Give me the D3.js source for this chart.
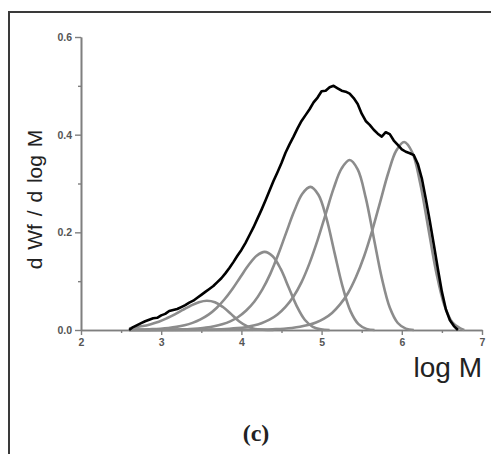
<!DOCTYPE html>
<html>
<head>
<meta charset="utf-8">
<script src="https://cdn.jsdelivr.net/npm/d3@7"></script>
<style>
  html, body { margin: 0; padding: 0; background: #fff; }
  svg { display: block; }
</style>
</head>
<body>
<svg id="chart" width="491" height="454"></svg>
<script>
// ---- Data ----
const xTicks = [2, 3, 4, 5, 6, 7];
const xMinorTicks = [2.5, 3.5, 4.5, 5.5, 6.5];
const yTicks = [0.0, 0.2, 0.4, 0.6];
const yMinorTicks = [0.1, 0.3, 0.5];

// Measured (total) distribution, black curve
const totalLogM = [2.60,2.65,2.70,2.75,2.80,2.85,2.90,2.95,3.00,3.05,3.10,3.15,3.20,3.25,3.30,3.35,3.40,3.45,3.50,3.55,3.60,3.65,3.70,3.75,3.80,3.85,3.90,3.95,4.00,4.05,4.10,4.15,4.20,4.25,4.30,4.35,4.40,4.45,4.50,4.55,4.60,4.65,4.70,4.75,4.80,4.85,4.90,4.95,5.00,5.05,5.10,5.15,5.20,5.25,5.30,5.35,5.40,5.45,5.50,5.55,5.60,5.65,5.70,5.75,5.80,5.85,5.90,5.95,6.00,6.05,6.10,6.15,6.20,6.25,6.30,6.35,6.40,6.45,6.50,6.55,6.60,6.65,6.70];
const totalW    = [0.000,0.006,0.010,0.014,0.018,0.021,0.024,0.025,0.030,0.033,0.039,0.041,0.043,0.047,0.051,0.056,0.060,0.066,0.072,0.078,0.084,0.090,0.098,0.106,0.116,0.127,0.139,0.152,0.164,0.178,0.194,0.210,0.228,0.246,0.265,0.285,0.305,0.323,0.342,0.363,0.380,0.396,0.413,0.428,0.440,0.452,0.466,0.476,0.489,0.490,0.497,0.500,0.495,0.490,0.488,0.484,0.475,0.463,0.443,0.428,0.420,0.410,0.402,0.396,0.405,0.401,0.388,0.379,0.370,0.365,0.362,0.358,0.340,0.310,0.268,0.222,0.174,0.125,0.078,0.042,0.020,0.008,0.000];

// Deconvoluted components, grey curves
const comp1LogM = [2.60,2.67,2.77,2.87,2.97,3.07,3.17,3.27,3.37,3.47,3.57,3.67,3.77,3.87,3.97,4.07,4.17,4.27,4.40];
const comp1W    = [0.003,0.0055,0.008,0.012,0.017,0.024,0.032,0.041,0.050,0.057,0.060,0.057,0.047,0.033,0.018,0.008,0.002,0.0005,0];

const comp2LogM = [2.60,2.69,2.79,2.89,2.99,3.09,3.19,3.29,3.39,3.49,3.59,3.69,3.79,3.89,3.99,4.09,4.19,4.29,4.39,4.49,4.59,4.69,4.79,4.89,4.99,5.10];
const comp2W    = [0.0005,0.0007,0.0011,0.0017,0.0027,0.0042,0.0064,0.0097,0.0146,0.0218,0.0315,0.0451,0.0629,0.0845,0.109,0.133,0.152,0.160,0.151,0.125,0.087,0.049,0.021,0.0066,0.0013,0];

const comp3LogM = [2.60,3.06,3.16,3.26,3.36,3.46,3.56,3.66,3.76,3.86,3.96,4.06,4.16,4.26,4.36,4.46,4.56,4.66,4.76,4.86,4.96,5.06,5.16,5.26,5.36,5.46,5.56,5.66];
const comp3W    = [0,0.0005,0.0008,0.0013,0.002,0.0032,0.0049,0.0076,0.0117,0.0177,0.0267,0.0398,0.0577,0.0826,0.115,0.155,0.200,0.244,0.279,0.293,0.277,0.229,0.159,0.090,0.0387,0.012,0.0023,0];

const comp4LogM = [2.60,3.55,3.65,3.75,3.85,3.95,4.05,4.15,4.25,4.35,4.45,4.55,4.65,4.75,4.85,4.95,5.05,5.15,5.25,5.35,5.45,5.55,5.65,5.75,5.85,5.95,6.05,6.15];
const comp4W    = [0,0.0006,0.001,0.0015,0.0024,0.0038,0.0058,0.009,0.0139,0.0211,0.0317,0.0473,0.0686,0.0981,0.137,0.184,0.237,0.290,0.331,0.348,0.329,0.271,0.189,0.107,0.046,0.0143,0.0028,0];

const comp5LogM = [2.60,4.23,4.33,4.43,4.53,4.63,4.73,4.83,4.93,5.03,5.13,5.23,5.33,5.43,5.53,5.63,5.73,5.83,5.93,6.03,6.13,6.23,6.33,6.43,6.53,6.63,6.73,6.78];
const comp5W    = [0,0.0007,0.0011,0.0017,0.0027,0.0042,0.0065,0.010,0.0154,0.0233,0.035,0.0524,0.0758,0.109,0.151,0.203,0.262,0.321,0.367,0.385,0.364,0.300,0.209,0.118,0.051,0.0158,0.0031,0];

const components = [
  [comp1LogM, comp1W], [comp2LogM, comp2W], [comp3LogM, comp3W],
  [comp4LogM, comp4W], [comp5LogM, comp5W]
];

// ---- Drawing ----
const svg = d3.select("#chart");
const x = d3.scaleLinear().domain([2, 7]).range([81, 482]);
const y = d3.scaleLinear().domain([0, 0.6]).range([330, 37]);

// outer frame (top and left edges visible)
svg.append("path")
  .attr("d", "M9,454 L9,12 L491,12")
  .attr("fill", "none").attr("stroke", "#3a3a3a").attr("stroke-width", 2);

const axisColor = "#7f7f7f";
const labelColor = "#555";

function styleAxis(g) {
  g.select(".domain").attr("stroke", axisColor).attr("stroke-width", 1.6);
  g.selectAll(".tick line").attr("stroke", axisColor).attr("stroke-width", 1.4);
  g.selectAll(".tick text").attr("fill", labelColor)
    .attr("font-family", "Liberation Sans, Arial, sans-serif")
    .attr("font-size", 10.5).attr("font-weight", "bold");
}

// minor ticks
svg.append("g").attr("transform", "translate(81,0)")
  .call(d3.axisLeft(y).tickValues(yMinorTicks).tickSize(3).tickSizeOuter(0).tickFormat(""))
  .call(styleAxis);
svg.append("g").attr("transform", "translate(0,330)")
  .call(d3.axisBottom(x).tickValues(xMinorTicks).tickSize(3).tickSizeOuter(0).tickFormat(""))
  .call(styleAxis);

// major ticks
svg.append("g").attr("transform", "translate(81,0)")
  .call(d3.axisLeft(y).tickValues(yTicks).tickSize(6).tickSizeOuter(0).tickPadding(3).tickFormat(d3.format(".1f")))
  .call(styleAxis);
svg.append("g").attr("transform", "translate(0,330)")
  .call(d3.axisBottom(x).tickValues(xTicks).tickSize(5).tickSizeOuter(0).tickPadding(4).tickFormat(d3.format("d")))
  .call(styleAxis);

// curves
const line = d3.line().curve(d3.curveCatmullRom.alpha(0.5))
  .x(d => x(d[0])).y(d => y(d[1]));

components.forEach(([xs, ws]) => {
  svg.append("path")
    .datum(xs.map((v, i) => [v, ws[i]]))
    .attr("d", line)
    .attr("fill", "none").attr("stroke", "#8c8c8c").attr("stroke-width", 2.6)
    .attr("stroke-linejoin", "round");
});

svg.append("path")
  .datum(totalLogM.map((v, i) => [v, totalW[i]]))
  .attr("d", d3.line().curve(d3.curveLinear).x(d => x(d[0])).y(d => y(d[1])))
  .attr("fill", "none").attr("stroke", "#000").attr("stroke-width", 2.6)
  .attr("stroke-linejoin", "round");

// axis titles
svg.append("text")
  .attr("transform", "translate(42,199.5) rotate(-90)")
  .attr("text-anchor", "middle")
  .attr("font-family", "Liberation Sans, Arial, sans-serif")
  .attr("font-size", 21).attr("word-spacing", 2).attr("fill", "#222")
  .text("d Wf / d log M");

svg.append("text")
  .attr("x", 482).attr("y", 377)
  .attr("text-anchor", "end")
  .attr("font-family", "Liberation Sans, Arial, sans-serif")
  .attr("font-size", 28).attr("fill", "#222")
  .text("log M");

svg.append("text")
  .attr("x", 256).attr("y", 441)
  .attr("text-anchor", "middle")
  .attr("font-family", "Liberation Serif, Times New Roman, serif")
  .attr("font-size", 24).attr("font-weight", "bold").attr("fill", "#222")
  .text("(c)");
</script>
</body>
</html>
